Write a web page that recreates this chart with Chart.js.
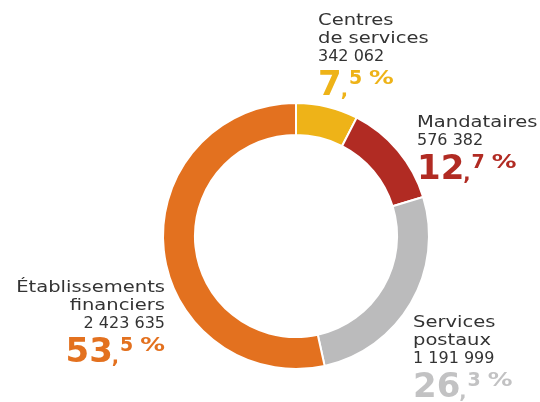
<!DOCTYPE html>
<html>
<head>
<meta charset="utf-8">
<script src="https://cdn.jsdelivr.net/npm/chart.js@4.4.1/dist/chart.umd.min.js"></script>
<style>
  body { margin: 0; background: #fff; }
  #wrap { width: 540px; height: 402px; }
</style>
</head>
<body>
<div id="wrap"><canvas id="myChart" width="540" height="402"></canvas></div>
<script>
// data
var categories = [["Centres", "de services"], ["Mandataires"], ["Services", "postaux"], ["Établissements", "financiers"]];
var values = [342062, 576382, 1191999, 2423635];
var colors = ["#EEB318", "#B12B23", "#BBBBBC", "#E3711F"];
var pctColors = ["#EEB318", "#B12B23", "#C2C2C3", "#E3711F"];

// where each label block sits, relative to the ring centre
var labelPos = [
  { dx: 22, dy: -211, align: "left" },
  { dx: 121, dy: -109, align: "left" },
  { dx: 117, dy: 91, align: "left" },
  { dx: -131, dy: 56, align: "right" }
];

var FONT = "'DejaVu Sans'";
var total = values.reduce(function(a, b) { return a + b; }, 0);

function fmtNum(v) {
  return String(v).replace(/\B(?=(\d{3})+(?!\d))/g, " ");
}

function drawName(ctx, txt, x, y, align) {
  // the original face is an extended one, so stretch a bit
  var sx = 1.22;
  ctx.save();
  ctx.font = "16px " + FONT;
  var w = ctx.measureText(txt).width * sx;
  var left = align === "right" ? x - w : x;
  ctx.translate(left, y);
  ctx.scale(sx, 1);
  ctx.textAlign = "left";
  ctx.fillText(txt, 0, 0);
  ctx.restore();
}

function drawPct(ctx, v, x, y, align, color) {
  var p = (v / total * 100).toFixed(1).split(".");
  var big = "bold 34px " + FONT;
  var small = "bold 19px " + FONT;
  var pctSx = 1.3;
  ctx.save();
  ctx.fillStyle = color;
  ctx.textAlign = "left";
  ctx.font = big;
  var wInt = ctx.measureText(p[0]).width;
  ctx.font = small;
  var wComma = ctx.measureText(",").width;
  var wDec = ctx.measureText(p[1]).width;
  var gap = 7;
  var wPct = ctx.measureText("%").width * pctSx;
  var tw = wInt + wComma + wDec + gap + wPct;
  var cx = align === "right" ? x - tw : x;
  ctx.font = big;
  ctx.fillText(p[0], cx, y);
  cx += wInt;
  ctx.font = small;
  ctx.fillText(",", cx - 1, y + 1);
  cx += wComma;
  var up = y - 11;
  ctx.fillText(p[1], cx, up);
  cx += wDec + gap;
  ctx.translate(cx, up);
  ctx.scale(pctSx, 1);
  ctx.fillText("%", 0, 0);
  ctx.restore();
}

var labelPlugin = {
  id: "outerLabels",
  afterDraw: function(chart) {
    var ctx = chart.ctx;
    var arcs = chart.getDatasetMeta(0).data;
    var cxr = arcs[0].x, cyr = arcs[0].y;
    for (var i = 0; i < values.length; i++) {
      var pos = labelPos[i];
      var x = cxr + pos.dx;
      var y = cyr + pos.dy;
      ctx.fillStyle = "#333333";
      var lines = categories[i];
      for (var j = 0; j < lines.length; j++) {
        drawName(ctx, lines[j], x, y, pos.align);
        y += 18;
      }
      ctx.save();
      ctx.font = "16px " + FONT;
      ctx.textAlign = pos.align;
      ctx.fillText(fmtNum(values[i]), x, y);
      ctx.restore();
      drawPct(ctx, values[i], x, y + 33.5, pos.align, pctColors[i]);
    }
  }
};

var ctx = document.getElementById("myChart").getContext("2d");
var chart = new Chart(ctx, {
  type: "doughnut",
  data: {
    labels: categories.map(function(c) { return c.join(" "); }),
    datasets: [{
      data: values,
      backgroundColor: colors,
      borderColor: "#ffffff",
      borderWidth: 2
    }]
  },
  options: {
    responsive: false,
    animation: false,
    cutout: "76%",
    layout: { padding: { left: 162, right: 110, top: 102, bottom: 32 } },
    plugins: {
      legend: { display: false },
      tooltip: { enabled: false }
    }
  },
  plugins: [labelPlugin]
});
</script>
</body>
</html>
